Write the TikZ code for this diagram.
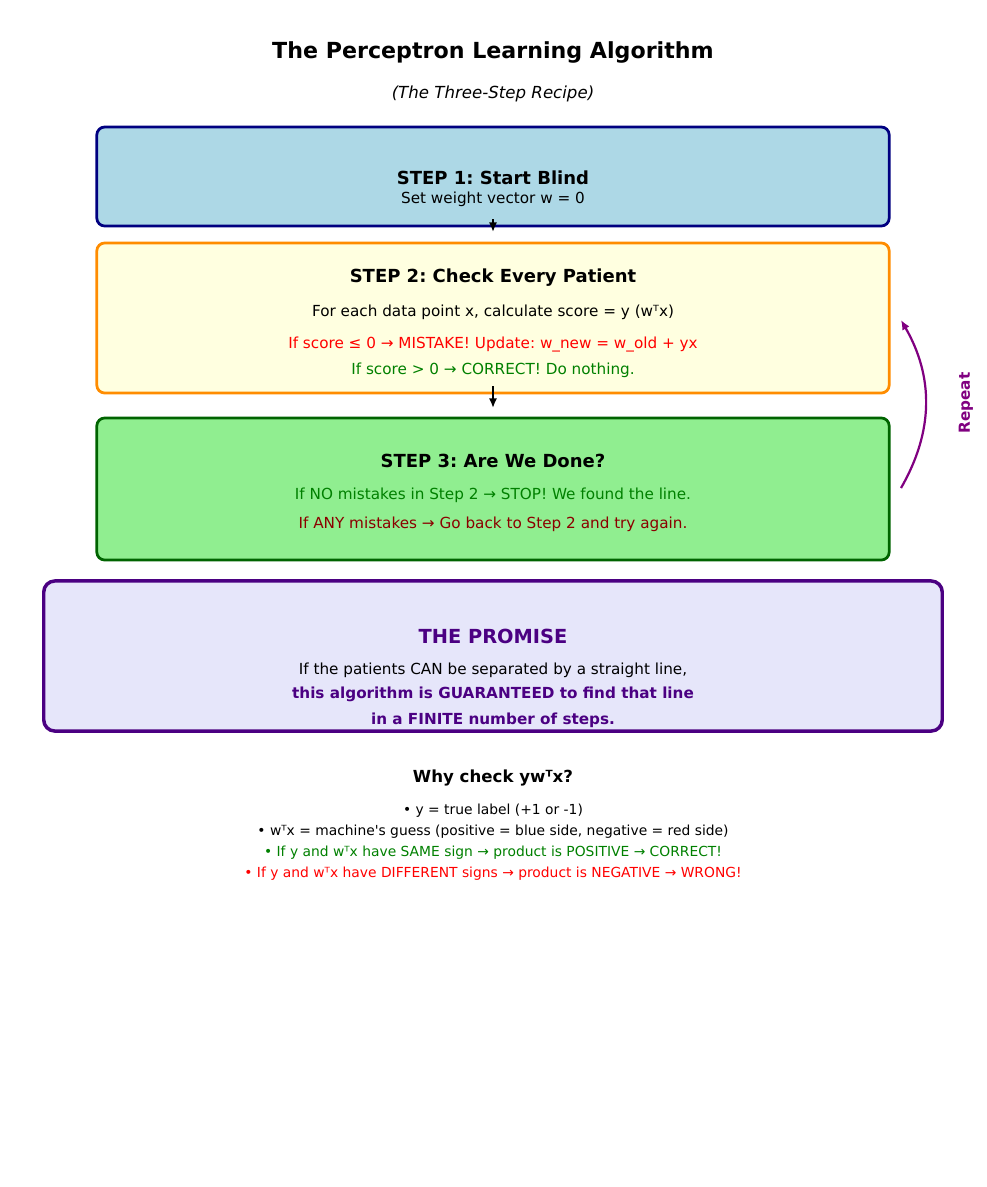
\documentclass[tikz,border=0pt]{standalone}
\usepackage{fontspec}
\setmainfont{DejaVu Sans}[Ligatures=TeXOff]
\usetikzlibrary{arrows.meta}
\definecolor{boxblue}{HTML}{ADD8E6}
\definecolor{boxnavy}{HTML}{000080}
\definecolor{boxyellow}{HTML}{FFFFE0}
\definecolor{boxorange}{HTML}{FF8C00}
\definecolor{boxgreen}{HTML}{90EE90}
\definecolor{boxdkgreen}{HTML}{006400}
\definecolor{boxlav}{HTML}{E6E6FA}
\definecolor{indigo}{HTML}{4B0082}
\definecolor{mplgreen}{HTML}{008000}
\definecolor{mplred}{HTML}{FF0000}
\definecolor{mpldkred}{HTML}{8B0000}
\definecolor{mplpurple}{HTML}{800080}
\newcommand{\fs}[1]{\fontsize{#1}{#1}\selectfont}
\frenchspacing
\begin{document}
\frenchspacing
\begin{tikzpicture}[x=0.01in,y=-0.01in,
  stepbox/.style={draw, rounded corners=5.8pt, line width=2pt, inner sep=0pt,
    minimum width=7.92in},
  txt/.style={inner sep=0pt, anchor=center, yshift=-1.3pt},
  title/.style={txt, font=\fs{13}\bfseries},
  body/.style={txt, font=\fs{11}},
  bullet/.style={txt, font=\fs{10}},
  flow/.style={line width=1.6pt, -{Latex[length=7pt,width=6pt]}}
]
\useasboundingbox (0,0) rectangle (987,1187);

\node[txt, font=\fs{16}\bfseries] (maintitle) at (493,51) {The Perceptron Learning Algorithm};
\node[txt, font=\fs{12}\itshape] (subtitle) at (493,92) {(The Three-Step Recipe)};

% Step 1
\node[stepbox, fill=boxblue, draw=boxnavy, minimum height=0.99in] (s1) at (493,176.5) {};
\node[title] (s1t) at (493,176) {STEP 1: Start Blind};
\node[body] (s1b) at (493,197) {Set weight vector w = 0};

% Step 2
\node[stepbox, fill=boxyellow, draw=boxorange, minimum height=1.50in] (s2) at (493,318) {};
\node[title] (s2t) at (493,276) {STEP 2: Check Every Patient};
\node[body] (s2a) at (493,310) {For each data point x, calculate score = y (wᵀx)};
\node[body, text=mplred] (s2b) at (493,343) {If score ≤ 0 → MISTAKE! Update: w\_new = w\_old + yx};
\node[body, text=mplgreen] (s2c) at (493,368) {If score > 0 → CORRECT! Do nothing.};

% Step 3
\node[stepbox, fill=boxgreen, draw=boxdkgreen, minimum height=1.42in] (s3) at (493,489) {};
\node[title] (s3t) at (493,459) {STEP 3: Are We Done?};
\node[body, text=mplgreen] (s3a) at (493,493) {If NO mistakes in Step 2 → STOP! We found the line.};
\node[body, text=mpldkred] (s3b) at (493,522) {If ANY mistakes → Go back to Step 2 and try again.};

% Promise
\node[draw=indigo, fill=boxlav, rounded corners=8pt, line width=2.5pt, inner sep=0pt,
  minimum width=8.98in, minimum height=1.50in] (pr) at (493,656) {};
\node[txt, font=\fs{14}\bfseries, text=indigo] (prt) at (493,635) {THE PROMISE};
\node[body] (pra) at (493,668) {If the patients CAN be separated by a straight line,};
\node[body, font=\fs{11}\bfseries, text=indigo] (prb) at (493,693) {this algorithm is GUARANTEED to find that line};
\node[body, font=\fs{11}\bfseries, text=indigo] (prc) at (493,718) {in a FINITE number of steps.};

% Why
\node[txt, font=\fs{12}\bfseries] (why) at (493,776) {Why check ywᵀx?};
\node[bullet] (b1) at (493,809) {• y = true label (+1 or -1)};
\node[bullet] (b2) at (493,830) {• wᵀx = machine's guess (positive = blue side, negative = red side)};
\node[bullet, text=mplgreen] (b3) at (493,851) {• If y and wᵀx have SAME sign → product is POSITIVE → CORRECT!};
\node[bullet, text=mplred] (b4) at (493,872) {• If y and wᵀx have DIFFERENT signs → product is NEGATIVE → WRONG!};

% Arrows
\coordinate (a1s) at (493,219);
\coordinate (a1e) at (493,232);
\coordinate (a2s) at (493,386);
\coordinate (a2e) at (493,408);
\draw[flow] (a1s) -- (a1e);
\draw[flow] (a2s) -- (a2e);

\coordinate (r1) at (901,488);
\coordinate (r2) at (901,320);
\draw[mplpurple, line width=1.6pt, -{Latex[length=7pt,width=6pt]}] (r1) to[bend right=30] (r2);
\node[inner sep=0pt, font=\fs{11}\bfseries, text=mplpurple, rotate=90] (rep) at (966,403) {Repeat};
\end{tikzpicture}
\end{document}
